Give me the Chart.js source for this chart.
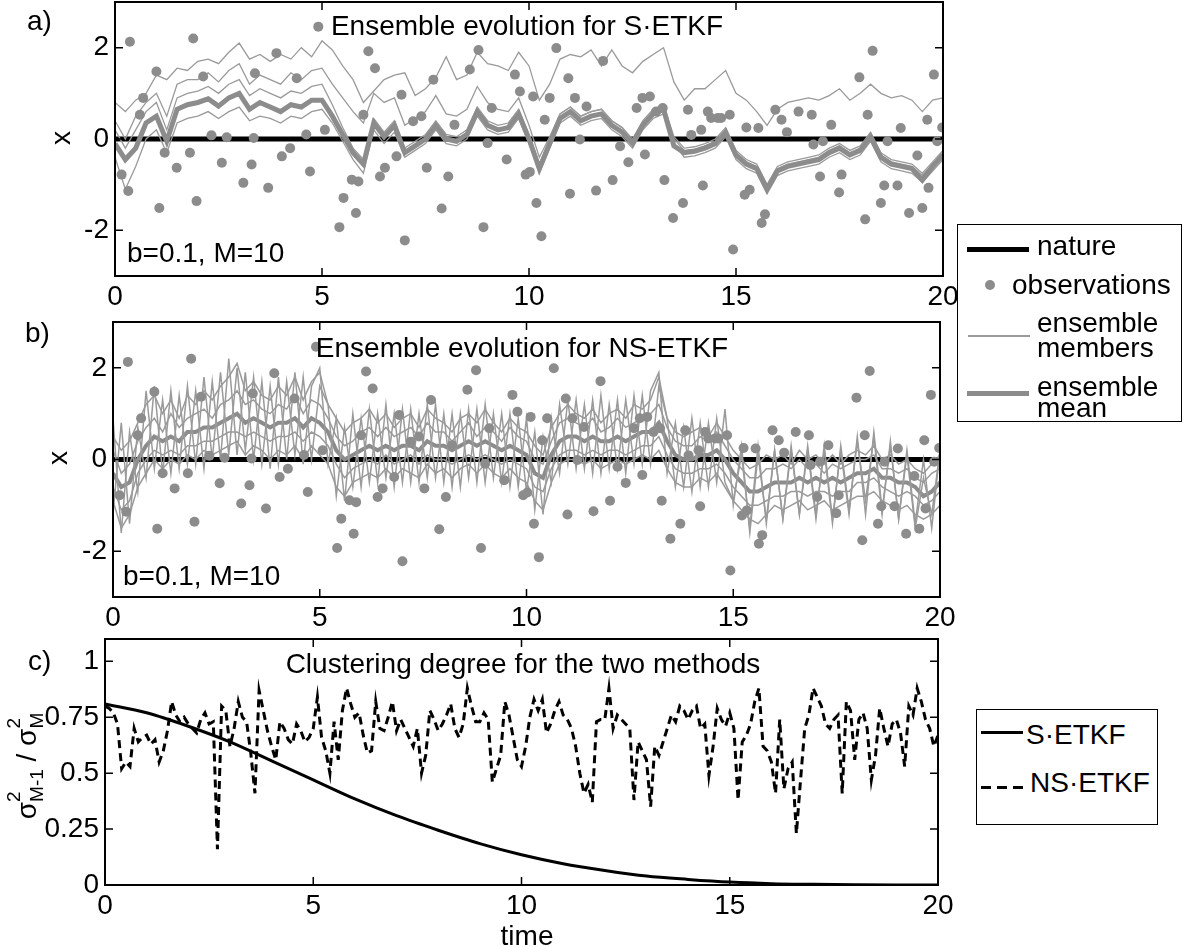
<!DOCTYPE html>
<html>
<head>
<meta charset="utf-8">
<script src="https://cdn.jsdelivr.net/npm/chart.js@4.4.1/dist/chart.umd.min.js"></script>
<style>
body { margin: 0; background: #fff; }
#wrap { position: relative; width: 1184px; height: 947px; overflow: hidden; font-family: "Liberation Sans", Arial, sans-serif; }
canvas { position: absolute; left: 0; }
.t { position: absolute; font-size: 28px; line-height: 28px; white-space: nowrap; color: #000; }
.box { position: absolute; border: 1.5px solid #000; box-sizing: border-box; background: #fff; }
.ln { position: absolute; }
</style>
</head>
<body>
<div id="wrap">
  <canvas id="ca" width="1184" height="316" style="top:0"></canvas>
  <canvas id="cb" width="1184" height="316" style="top:316px"></canvas>
  <canvas id="cc" width="1184" height="315" style="top:632px"></canvas>

  <!-- legend for panels a and b -->
  <div class="box" style="left:957px;top:224px;width:225px;height:198px"></div>
  <div class="ln" style="left:967px;top:247px;width:62px;height:5px;background:#000"></div>
  <div class="t" style="left:1037px;top:232px">nature</div>
  <div class="ln" style="left:985px;top:280px;width:10px;height:10px;border-radius:50%;background:#8c8c8c"></div>
  <div class="t" style="left:1012px;top:271px">observations</div>
  <div class="ln" style="left:968px;top:335px;width:62px;height:2px;background:#9a9a9a"></div>
  <div class="t" style="left:1037px;top:309px">ensemble</div>
  <div class="t" style="left:1037px;top:334px">members</div>
  <div class="ln" style="left:967px;top:391px;width:62px;height:5px;background:#8c8c8c"></div>
  <div class="t" style="left:1037px;top:373px">ensemble</div>
  <div class="t" style="left:1037px;top:394px">mean</div>

  <!-- legend for panel c -->
  <div class="box" style="left:976px;top:709px;width:182px;height:116px"></div>
  <div class="ln" style="left:981px;top:731px;width:42px;height:2.5px;background:#000"></div>
  <div class="t" style="left:1026px;top:721px">S·ETKF</div>
  <div class="ln" style="left:981px;top:786px;width:46px;height:2.5px;background:repeating-linear-gradient(90deg,#000 0 10px,transparent 10px 16px)"></div>
  <div class="t" style="left:1030px;top:769px">NS·ETKF</div>
</div>

<script>
const FONT = '"Liberation Sans", Arial, sans-serif';

// ---- panel a : S-ETKF, ensemble on a 0.25 time grid ----
const stepA = 0.25;
const meanA = [
  -0.10,-0.45,-0.20,0.35,0.50,-0.05,0.65,0.75,0.80,0.88,
  0.72,0.90,1.00,0.65,0.80,0.70,0.60,0.75,0.70,0.85,
  0.85,0.50,0.10,-0.30,-0.55,0.35,0.05,0.30,-0.30,-0.15,
  0.00,0.30,0.00,-0.05,0.10,0.60,0.30,0.20,0.25,0.55,
  0.00,-0.65,-0.10,0.45,0.60,0.40,0.50,0.55,0.30,0.15,
  -0.10,0.30,0.55,0.65,-0.15,-0.30,-0.27,-0.20,-0.10,0.15,
  -0.35,-0.55,-0.65,-1.10,-0.70,-0.60,-0.55,-0.50,-0.45,-0.30,
  -0.20,-0.35,-0.25,0.05,-0.40,-0.55,-0.60,-0.65,-0.90,-0.60,-0.35
];
const memberA1 = [
  0.80,0.60,0.85,1.00,1.40,1.30,1.55,1.50,1.70,1.75,
  1.65,1.90,2.10,1.75,1.85,1.70,1.85,1.75,2.00,1.80,
  2.15,1.95,1.60,1.30,0.80,1.05,1.30,1.40,1.45,0.95,
  1.10,1.35,1.80,1.30,1.40,1.90,1.65,1.60,1.50,1.90,
  1.60,0.85,1.20,1.75,1.85,1.80,1.95,1.60,1.95,1.60,
  1.45,1.70,1.85,2.00,1.25,0.85,1.10,1.10,1.30,1.50,
  1.00,0.85,0.60,0.30,0.65,0.80,0.85,0.90,0.85,0.95,
  1.10,0.85,1.00,1.20,1.00,0.90,0.95,0.85,0.60,0.85,0.90
];
const memberA2 = [
  0.40,0.00,0.50,0.80,1.00,0.50,1.20,1.30,1.30,1.45,
  1.25,1.50,1.65,1.20,1.40,1.30,1.20,1.45,1.30,1.50,
  1.55,1.20,0.90,0.60,0.35,1.00,0.80,0.90,0.30,0.45,
  0.60,0.95,0.55,0.50,0.65,1.15,0.80,0.65,0.60,0.90,
  0.30,-0.40,0.05,0.55,0.70,0.50,0.60,0.65,0.40,0.25,
  0.00,0.40,0.65,0.75,0.05,-0.20,-0.17,-0.10,0.00,0.25,
  -0.25,-0.45,-0.55,-1.00,-0.60,-0.50,-0.45,-0.40,-0.35,-0.20,
  -0.10,-0.25,-0.15,0.15,-0.30,-0.45,-0.50,-0.55,-0.75,-0.50,-0.25
];
const memberA3 = [
  0.20,-0.20,0.20,0.60,0.80,0.20,0.90,1.00,1.05,1.15,
  1.00,1.20,1.30,0.95,1.10,1.00,0.90,1.05,1.00,1.15,
  1.20,0.75,0.25,-0.20,-0.45,0.45,0.15,0.40,-0.20,-0.05,
  0.10,0.40,0.10,0.05,0.20,0.70,0.40,0.30,0.35,0.65,
  0.10,-0.55,0.00,0.55,0.70,0.50,0.60,0.65,0.40,0.25,
  -0.05,0.35,0.60,0.72,0.00,-0.25,-0.22,-0.15,-0.05,0.20,
  -0.30,-0.50,-0.60,-1.05,-0.65,-0.55,-0.50,-0.45,-0.40,-0.25,
  -0.15,-0.30,-0.20,0.10,-0.35,-0.50,-0.55,-0.60,-0.80,-0.55,-0.30
];
const memberA4 = [
  -0.40,-1.10,-0.60,0.00,0.20,-0.30,0.35,0.45,0.50,0.60,
  0.45,0.60,0.70,0.40,0.50,0.45,0.35,0.50,0.45,0.60,
  0.65,0.35,-0.05,-0.45,-0.75,0.20,-0.10,0.15,-0.40,-0.25,
  -0.10,0.20,-0.10,-0.15,0.00,0.50,0.20,0.10,0.15,0.45,
  -0.10,-0.75,-0.20,0.35,0.50,0.30,0.40,0.45,0.20,0.05,
  -0.20,0.20,0.45,0.55,-0.10,-0.40,-0.37,-0.30,-0.20,0.05,
  -0.45,-0.65,-0.75,-1.20,-0.80,-0.70,-0.65,-0.60,-0.55,-0.40,
  -0.30,-0.45,-0.35,-0.05,-0.50,-0.65,-0.70,-0.75,-0.95,-0.70,-0.45
];

// ---- panel b : NS-ETKF, ensemble on a 0.2 time grid ----
const stepB = 0.2;
const meanB = [
  -0.30,-0.60,-0.50,0.00,0.30,0.50,0.40,0.50,0.40,0.60,
  0.60,0.70,0.70,0.80,0.90,1.00,0.80,0.90,0.80,0.70,
  0.80,0.80,0.90,0.70,0.90,0.80,0.60,0.20,0.00,0.10,
  0.20,0.30,0.20,0.30,0.20,0.30,0.30,0.20,0.40,0.30,
  0.30,0.20,0.30,0.40,0.30,0.40,0.30,0.20,0.30,0.20,
  0.10,-0.30,-0.40,0.10,0.40,0.50,0.50,0.40,0.50,0.40,
  0.40,0.50,0.40,0.50,0.60,0.60,0.80,0.40,0.10,0.00,
  0.00,0.10,0.10,0.20,0.00,-0.30,-0.50,-0.70,-0.70,-0.60,
  -0.50,-0.50,-0.50,-0.40,-0.50,-0.40,-0.50,-0.40,-0.50,-0.40,
  -0.30,-0.30,-0.20,-0.40,-0.40,-0.50,-0.50,-0.60,-0.80,-0.70,
  -0.50
];
const memberB1 = [
  0.50,0.20,0.40,0.80,1.20,1.40,1.00,1.30,0.90,1.40,
  1.20,1.50,1.30,1.60,1.80,2.10,1.50,1.70,1.40,1.30,
  1.60,1.40,1.80,1.30,1.70,1.90,1.20,0.90,0.60,0.80,
  0.90,1.10,0.80,1.00,0.70,0.90,1.00,0.70,1.10,0.90,
  0.80,0.60,0.90,1.00,0.80,1.10,0.80,0.60,0.90,0.70,
  0.60,0.30,0.10,0.70,1.00,1.20,1.00,0.90,1.10,0.80,
  1.00,1.10,0.90,1.20,1.10,1.30,1.80,0.90,0.60,0.50,
  0.60,0.70,0.50,0.80,0.50,0.20,0.00,-0.20,-0.10,0.10,
  0.00,0.10,-0.10,0.20,0.00,0.10,-0.10,0.10,-0.10,0.10,
  0.20,0.10,0.30,0.00,0.10,-0.10,0.00,-0.20,-0.30,-0.10,
  0.10
];
const memberB2 = [
  -0.90,-1.50,-1.20,-0.60,-0.30,0.00,-0.20,0.00,-0.10,0.10,
  0.00,0.20,0.10,0.20,0.30,0.40,0.10,0.30,0.20,0.00,
  0.20,0.10,0.30,0.00,0.30,0.10,-0.10,-0.60,-0.80,-0.50,
  -0.40,-0.30,-0.40,-0.20,-0.40,-0.20,-0.30,-0.40,-0.10,-0.30,
  -0.20,-0.40,-0.20,-0.10,-0.30,-0.10,-0.30,-0.40,-0.20,-0.40,
  -0.50,-0.90,-1.10,-0.50,-0.10,0.00,0.00,-0.10,0.00,-0.20,
  -0.10,0.00,-0.10,0.00,0.10,0.00,0.20,-0.20,-0.50,-0.60,
  -0.60,-0.40,-0.50,-0.30,-0.60,-0.90,-1.10,-1.30,-1.40,-1.20,
  -1.00,-1.10,-1.00,-0.90,-1.10,-1.00,-0.90,-1.10,-1.00,-0.90,
  -0.80,-0.80,-0.70,-0.90,-1.00,-1.10,-1.00,-1.20,-1.30,-1.20,
  -1.00
];
const memberB3 = [
  0.20,-0.30,-0.10,0.40,0.70,0.90,0.60,1.00,0.70,0.90,
  1.00,1.10,0.90,1.20,1.30,1.50,1.20,1.30,1.10,1.00,
  1.20,1.10,1.40,1.00,1.30,1.20,0.90,0.50,0.30,0.40,
  0.60,0.70,0.50,0.70,0.50,0.60,0.70,0.50,0.80,0.60,
  0.60,0.40,0.60,0.80,0.50,0.70,0.60,0.40,0.70,0.50,
  0.40,0.00,-0.10,0.40,0.80,0.90,0.80,0.70,0.90,0.60,
  0.70,0.90,0.70,0.80,0.90,1.00,1.20,0.70,0.40,0.30,
  0.30,0.50,0.40,0.60,0.30,0.00,-0.20,-0.40,-0.40,-0.20,
  -0.20,-0.10,-0.20,0.00,-0.20,-0.10,-0.30,-0.10,-0.20,-0.10,
  0.00,0.00,0.10,-0.20,-0.20,-0.30,-0.20,-0.40,-0.50,-0.30,
  -0.20
];
const memberB4 = [
  -0.60,-1.10,-0.90,-0.30,0.00,0.20,0.10,0.20,0.10,0.30,
  0.30,0.40,0.40,0.50,0.60,0.60,0.50,0.60,0.50,0.40,
  0.50,0.50,0.60,0.40,0.60,0.50,0.30,-0.10,-0.40,-0.20,
  -0.10,0.00,-0.10,0.10,-0.10,0.00,0.10,-0.10,0.10,0.00,
  0.00,-0.10,0.00,0.10,0.00,0.10,0.00,-0.10,0.00,-0.10,
  -0.20,-0.60,-0.70,-0.20,0.10,0.20,0.20,0.10,0.20,0.10,
  0.20,0.20,0.10,0.20,0.30,0.30,0.50,0.10,-0.20,-0.30,
  -0.30,-0.20,-0.20,-0.10,-0.30,-0.60,-0.80,-1.00,-1.00,-0.90,
  -0.80,-0.80,-0.70,-0.70,-0.80,-0.70,-0.70,-0.80,-0.70,-0.70,
  -0.50,-0.50,-0.40,-0.60,-0.70,-0.80,-0.70,-0.80,-1.00,-0.90,
  -0.70
];
const memberB5 = [
  0.90,-1.60,0.60,-0.70,1.50,-0.20,1.30,-0.30,1.40,-0.10,
  1.50,-0.20,1.70,0.00,2.20,0.10,1.90,0.00,1.70,-0.20,
  1.80,0.00,1.90,-0.10,1.60,2.00,-0.10,0.90,-0.90,1.00,
  -0.60,1.10,-0.50,1.20,-0.60,1.10,-0.50,1.00,-0.40,1.20,
  -0.50,1.00,-0.60,1.10,-0.50,1.20,-0.40,1.00,-0.60,0.90,
  -0.70,0.60,-1.20,0.90,-0.30,1.30,-0.20,1.20,-0.30,1.40,
  -0.20,1.30,-0.30,1.40,-0.10,1.50,1.90,-0.30,0.80,-0.60,
  0.90,-0.60,0.80,-0.50,1.10,-1.00,0.30,-1.60,0.10,-1.30,
  0.20,-1.30,0.30,-1.20,0.20,-1.30,0.30,-1.30,0.20,-1.20,
  0.50,-1.20,0.60,-1.10,0.30,-1.30,0.20,-1.40,0.00,-1.50,
  0.20
];
const memberB6 = [
  -1.20,0.80,-1.40,0.70,-0.40,1.60,-0.30,1.50,-0.20,1.60,
  -0.10,1.80,0.00,1.90,0.10,2.00,0.20,1.80,-0.10,1.60,
  -0.10,1.70,0.10,1.80,0.00,1.60,1.20,-0.80,0.70,-0.60,
  0.90,-0.50,1.00,-0.40,1.00,-0.50,1.10,-0.50,1.20,-0.40,
  1.00,-0.60,1.00,-0.40,1.10,-0.50,1.00,-0.50,1.00,-0.60,
  0.90,-1.10,0.50,-0.50,1.20,-0.10,1.30,-0.20,1.30,-0.30,
  1.20,-0.20,1.30,-0.10,1.40,-0.10,1.60,0.90,-0.60,0.70,
  -0.70,0.80,-0.60,0.90,-0.50,-0.90,0.10,-1.50,0.30,-1.40,
  0.20,-1.30,0.20,-1.20,0.30,-1.20,0.20,-1.40,0.30,-1.10,
  0.40,-0.90,0.50,-1.20,0.40,-1.30,0.10,-1.50,-0.40,-1.20,
  0.20
];

// ---- observations (same in a and b) and nature ----
const obsTime = [
  0.16,0.32,0.36,0.60,0.68,1.00,1.07,1.20,1.49,1.81,1.89,1.97,2.13,2.33,2.58,2.70,
  3.10,3.30,3.35,3.38,3.70,3.90,4.03,4.23,4.39,4.62,4.71,4.91,5.07,5.42,5.52,5.72,
  5.82,5.88,6.00,6.12,6.28,6.40,6.52,6.80,6.92,7.00,7.20,7.40,7.53,7.69,7.89,8.05,
  8.20,8.57,8.78,8.90,9.00,9.10,9.46,9.66,9.78,9.92,10.02,10.10,10.18,10.30,10.38,10.50,
  10.66,10.95,10.99,11.11,11.23,11.39,11.62,11.79,12.02,12.20,12.40,12.60,12.74,12.80,12.92,13.07,
  13.23,13.27,13.48,13.72,13.84,13.92,14.16,14.20,14.32,14.40,14.56,14.64,14.85,14.93,15.21,15.25,
  15.33,15.54,15.62,15.70,15.95,16.10,16.23,16.51,16.83,16.87,17.03,17.10,17.30,17.49,17.55,17.98,
  18.12,18.18,18.30,18.50,18.58,18.66,18.90,18.98,19.18,19.38,19.50,19.62,19.65,19.78,19.86,19.98
];
const obsValue = [
  -0.78,-1.14,2.13,0.53,0.90,1.48,-1.51,-0.30,-0.63,-0.30,2.20,-1.36,1.37,0.08,-0.52,0.04,
  -0.96,-0.56,0.02,1.44,-1.07,1.88,-0.38,-0.20,1.33,0.10,-0.71,2.46,0.20,-1.93,-1.29,-0.89,
  -1.62,-0.93,0.53,1.92,1.55,-0.82,-0.63,-0.38,0.97,-2.22,0.39,0.50,-0.63,1.30,-1.52,-0.82,
  0.31,1.52,1.95,-1.93,-0.09,0.68,-0.45,1.41,1.04,-0.78,-0.72,0.93,-1.40,-2.13,0.42,0.90,
  1.99,1.33,-1.20,0.90,-0.01,0.71,-1.13,1.71,-0.90,-0.16,-0.51,0.68,0.90,-0.34,0.93,0.60,
  0.68,-0.90,-1.73,-1.40,0.64,0.09,0.20,-1.02,0.60,0.46,0.46,0.46,0.53,-2.42,-1.22,0.25,
  -1.11,0.24,-1.84,-1.65,0.64,0.42,0.15,0.60,0.53,-0.12,-0.82,-0.05,0.31,-1.17,-0.78,1.35,
  -1.76,0.53,1.93,-1.40,-1.02,-0.05,-1.02,0.24,-1.62,-0.36,-1.51,0.42,-1.07,1.41,-0.05,0.25
];
const natureTime = [0, 20];
const natureValue = [0, 0];

// ---- panel c : clustering degree ----
const stepC = 0.1;
const nsClustering = [
  0.80,0.79,0.77,0.72,0.52,0.55,0.53,0.70,0.64,0.66,
  0.67,0.63,0.65,0.55,0.60,0.69,0.82,0.76,0.73,0.75,
  0.72,0.70,0.68,0.74,0.77,0.72,0.73,0.16,0.80,0.78,
  0.62,0.70,0.82,0.75,0.73,0.59,0.41,0.87,0.78,0.69,
  0.62,0.56,0.73,0.70,0.65,0.63,0.72,0.69,0.64,0.66,
  0.70,0.84,0.66,0.60,0.50,0.73,0.56,0.78,0.88,0.81,
  0.75,0.77,0.67,0.59,0.60,0.82,0.70,0.69,0.75,0.82,
  0.69,0.74,0.70,0.66,0.62,0.70,0.50,0.58,0.78,0.74,
  0.69,0.72,0.76,0.81,0.70,0.66,0.72,0.88,0.80,0.73,
  0.73,0.77,0.74,0.46,0.52,0.58,0.82,0.76,0.66,0.56,
  0.53,0.62,0.75,0.83,0.78,0.83,0.68,0.72,0.78,0.82,
  0.76,0.74,0.70,0.62,0.50,0.41,0.45,0.37,0.73,0.74,
  0.74,0.88,0.70,0.76,0.74,0.72,0.70,0.38,0.64,0.60,
  0.56,0.35,0.62,0.58,0.64,0.70,0.76,0.73,0.80,0.78,
  0.74,0.78,0.80,0.70,0.72,0.49,0.62,0.79,0.74,0.71,
  0.77,0.70,0.38,0.64,0.67,0.72,0.82,0.88,0.62,0.60,
  0.55,0.41,0.74,0.43,0.52,0.55,0.23,0.47,0.70,0.76,
  0.88,0.84,0.80,0.72,0.70,0.74,0.76,0.41,0.82,0.78,
  0.56,0.74,0.77,0.70,0.47,0.58,0.79,0.70,0.62,0.72,
  0.74,0.68,0.53,0.80,0.76,0.88,0.82,0.74,0.70,0.62,
  0.67
];
const sTime = [0,1,2,3,4,5,6,7,8,9,10,11,12,13,14,15,16,17,18,19,20];
const sClustering = [0.81,0.77,0.71,0.64,0.555,0.47,0.385,0.31,0.245,0.185,0.135,0.095,0.065,0.04,0.025,0.013,0.006,0.003,0.001,0,0];

const xTicks = [0, 5, 10, 15, 20];

// ---- helpers ----
function grid(values, step) { return values.map((v, i) => i * step); }
function pts(xs, ys) { return ys.map((y, i) => ({ x: xs[i], y: y })); }
function line(xs, ys, color, width, extra) {
  return Object.assign({ data: pts(xs, ys), showLine: true, borderColor: color, borderWidth: width,
    pointRadius: 0, fill: false, tension: 0 }, extra || {});
}
function obsSet() {
  return { data: pts(obsTime, obsValue), showLine: false, pointRadius: 5, pointBackgroundColor: '#8c8c8c',
    pointBorderWidth: 0, borderWidth: 0 };
}

// frame with inward ticks plus the texts drawn on each panel
function framePlugin(texts, extra) {
  return {
    id: 'frame',
    afterDraw(chart) {
      const ctx = chart.ctx, a = chart.chartArea;
      const xs = chart.scales.x, ys = chart.scales.y;
      ctx.save();
      ctx.strokeStyle = '#000';
      ctx.lineWidth = 2;
      ctx.strokeRect(a.left, a.top, a.right - a.left, a.bottom - a.top);
      ctx.lineWidth = 1.5;
      ctx.beginPath();
      xs.ticks.forEach(t => {
        const px = xs.getPixelForValue(t.value);
        ctx.moveTo(px, a.bottom); ctx.lineTo(px, a.bottom - 8);
        ctx.moveTo(px, a.top); ctx.lineTo(px, a.top + 8);
      });
      ys.ticks.forEach(t => {
        const py = ys.getPixelForValue(t.value);
        ctx.moveTo(a.left, py); ctx.lineTo(a.left + 8, py);
        ctx.moveTo(a.right, py); ctx.lineTo(a.right - 8, py);
      });
      ctx.stroke();
      ctx.fillStyle = '#000';
      ctx.font = '28px ' + FONT;
      ctx.textBaseline = 'alphabetic';
      texts.forEach(t => {
        ctx.textAlign = t.align || 'left';
        ctx.fillText(t.text, t.x, t.y);
      });
      if (extra) extra(ctx);
      ctx.restore();
    }
  };
}

function rotatedX(cx, cy) {
  return ctx => {
    ctx.save();
    ctx.translate(cx, cy);
    ctx.rotate(-Math.PI / 2);
    ctx.textAlign = 'center';
    ctx.textBaseline = 'middle';
    ctx.fillText('x', 0, 0);
    ctx.restore();
  };
}

function sigmaLabel(bx, cy) {
  return ctx => {
    const big = '28px ' + FONT, small = '19px ' + FONT;
    const parts = [
      { t: '\u03c3' }, { sup: '2', sub: 'M-1' }, { t: ' / ' }, { t: '\u03c3' }, { sup: '2', sub: 'M' }
    ];
    let total = 0;
    parts.forEach(p => {
      if (p.t) { ctx.font = big; p.w = ctx.measureText(p.t).width; }
      else { ctx.font = small; p.w = Math.max(ctx.measureText(p.sup).width, ctx.measureText(p.sub).width); }
      total += p.w;
    });
    ctx.save();
    ctx.translate(bx, cy);
    ctx.rotate(-Math.PI / 2);
    ctx.textAlign = 'left';
    ctx.textBaseline = 'alphabetic';
    let u = -total / 2;
    parts.forEach(p => {
      if (p.t) { ctx.font = big; ctx.fillText(p.t, u, 0); }
      else {
        ctx.font = small;
        ctx.fillText(p.sup, u, -16);
        ctx.fillText(p.sub, u, 7);
      }
      u += p.w;
    });
    ctx.restore();
  };
}

// the plot box has to sit at a fixed place, so the scales get fixed sizes and no label padding
function panelOptions(c) {
  return {
    responsive: false,
    animation: false,
    events: [],
    layout: { autoPadding: false, padding: { top: c.top, left: 0, right: c.right, bottom: 0 } },
    plugins: { legend: { display: false }, tooltip: { enabled: false } },
    scales: {
      x: {
        type: 'linear', min: 0, max: 20,
        afterBuildTicks: s => { s.ticks = xTicks.map(v => ({ value: v })); },
        ticks: { font: { size: 28, family: FONT }, color: '#000', padding: c.xpad, maxRotation: 0, autoSkip: false },
        grid: { display: false, drawTicks: false },
        border: { display: false },
        afterFit: s => { s.height = c.xh; s.paddingLeft = 0; s.paddingRight = 0; }
      },
      y: {
        type: 'linear', min: c.ymin, max: c.ymax,
        afterBuildTicks: s => { s.ticks = c.yticks.map(v => ({ value: v })); },
        ticks: { font: { size: 28, family: FONT }, color: '#000', padding: 6, callback: v => String(v) },
        grid: { display: false, drawTicks: false },
        border: { display: false },
        afterFit: s => { s.width = c.yw; s.paddingTop = 0; s.paddingBottom = 0; }
      }
    }
  };
}

const timeA = grid(meanA, stepA);
const timeB = grid(meanB, stepB);
const timeC = grid(nsClustering, stepC);
const memberColor = '#9a9a9a', meanColor = '#8c8c8c';

// panel a
new Chart(document.getElementById('ca'), {
  type: 'scatter',
  data: {
    datasets: [
      obsSet(),
      line(timeA, meanA, meanColor, 5),
      line(timeA, memberA1, memberColor, 1.3),
      line(timeA, memberA2, memberColor, 1.3),
      line(timeA, memberA3, memberColor, 1.3),
      line(timeA, memberA4, memberColor, 1.3),
      line(natureTime, natureValue, '#000', 5)
    ]
  },
  options: panelOptions({ top: 2, right: 241, xh: 40, yw: 115, xpad: 4, ymin: -3, ymax: 3, yticks: [-2, 0, 2] }),
  plugins: [framePlugin([
    { text: 'Ensemble evolution for S\u00b7ETKF', x: 527, y: 35, align: 'center' },
    { text: 'b=0.1, M=10', x: 127, y: 262 },
    { text: 'a)', x: 27, y: 30 }
  ], rotatedX(62, 138))]
});

// panel b
new Chart(document.getElementById('cb'), {
  type: 'scatter',
  data: {
    datasets: [
      obsSet(),
      line(timeB, memberB1, memberColor, 1.5),
      line(timeB, memberB2, memberColor, 1.5),
      line(timeB, memberB3, memberColor, 1.5),
      line(timeB, memberB4, memberColor, 1.5),
      line(timeB, memberB5, memberColor, 1.5),
      line(timeB, memberB6, memberColor, 1.5),
      line(timeB, meanB, meanColor, 4),
      line(natureTime, natureValue, '#000', 5)
    ]
  },
  options: panelOptions({ top: 6, right: 244, xh: 35, yw: 113, xpad: 4, ymin: -3, ymax: 3, yticks: [-2, 0, 2] }),
  plugins: [framePlugin([
    { text: 'Ensemble evolution for NS-ETKF', x: 522, y: 41, align: 'center' },
    { text: 'b=0.1, M=10', x: 123, y: 269 },
    { text: 'b)', x: 25, y: 26 }
  ], rotatedX(59, 142))]
});

// panel c
new Chart(document.getElementById('cc'), {
  type: 'scatter',
  data: {
    datasets: [
      line(timeC, nsClustering, '#000', 3, { borderDash: [8, 5] }),
      line(sTime, sClustering, '#000', 3, { cubicInterpolationMode: 'monotone' })
    ]
  },
  options: panelOptions({ top: 7, right: 246, xh: 62, yw: 105, xpad: 4, ymin: 0, ymax: 1.1, yticks: [0, 0.25, 0.5, 0.75, 1] }),
  plugins: [framePlugin([
    { text: 'Clustering degree for the two methods', x: 523, y: 41, align: 'center' },
    { text: 'c)', x: 28, y: 38 },
    { text: 'time', x: 527, y: 313, align: 'center' }
  ], sigmaLabel(36, 134))]
});
</script>
</body>
</html>
